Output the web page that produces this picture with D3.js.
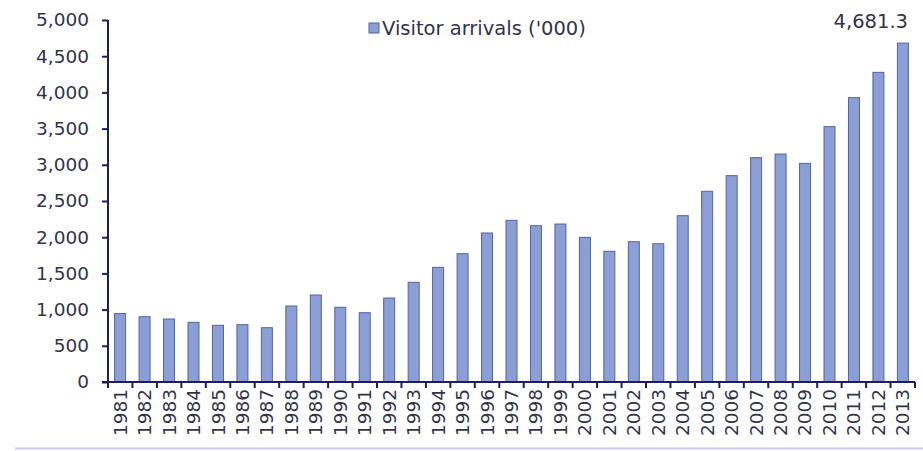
<!DOCTYPE html>
<html><head><meta charset="utf-8">
<script src="https://cdn.jsdelivr.net/npm/d3@7"></script>
<style>body{margin:0;background:#fff}svg{display:block}text{font-family:"DejaVu Sans",Verdana,sans-serif}</style>
</head><body><svg id="c" width="923" height="451"></svg>
<script>
const years = ["1981","1982","1983","1984","1985","1986","1987","1988","1989","1990","1991","1992","1993","1994","1995","1996","1997","1998","1999","2000","2001","2002","2003","2004","2005","2006","2007","2008","2009","2010","2011","2012","2013"];
const arrivals = [945,902,870,824,783,792,750,1050,1202,1032,957,1160,1377,1584,1772,2058,2233,2159,2182,1998,1805,1938,1910,2297,2634,2850,3098,3149,3020,3527,3927,4277,4681.3];
const yTicks = [0,500,1000,1500,2000,2500,3000,3500,4000,4500,5000];
const seriesName = "Visitor arrivals ('000)";
const lastLabel = "4,681.3";

const svg = d3.select("#c");
const m = {l:108, r:915, t:20, b:382};
const x = d3.scaleBand().domain(years).range([m.l, m.r]).paddingInner(0.55).paddingOuter(0.27);
const xb = d3.scaleBand().domain(years).range([m.l, m.r]);
const y = d3.scaleLinear().domain([0,5000]).range([m.b, m.t]);
const axisCol = "#1b1f5e", txtCol = "#33334a";

svg.append("line").attr("x1",15).attr("x2",923).attr("y1",448.5).attr("y2",448.5).attr("stroke","#c9cbf2").attr("stroke-width",2);

svg.selectAll("rect.bar").data(arrivals).join("rect").attr("class","bar")
  .attr("x",(d,i)=>x(years[i])).attr("width",x.bandwidth())
  .attr("y",d=>y(d)).attr("height",d=>y(0)-y(d))
  .attr("fill","#8b9ed5").attr("stroke","#54649a").attr("stroke-width",1);

// y axis
const ya = svg.append("g").attr("transform",`translate(${m.l},0)`)
  .call(d3.axisLeft(y).tickValues(yTicks).tickSize(6).tickPadding(13).tickFormat(d3.format(",")));
ya.select(".domain").attr("stroke",axisCol).attr("stroke-width",2).attr("d",`M0,${m.t}V${m.b}`);
ya.selectAll(".tick line").attr("stroke",axisCol).attr("stroke-width",2);
ya.selectAll("text").attr("fill",txtCol).style("font-size","18.5px").attr("font-family","DejaVu Sans");

// x axis
const xa = svg.append("g").attr("transform",`translate(0,${m.b})`);
xa.append("line").attr("x1",m.l-6).attr("x2",m.r).attr("stroke",axisCol).attr("stroke-width",2);
xa.selectAll("line.t").data(years.concat(["end"])).join("line").attr("class","t")
  .attr("x1",(d,i)=> i<years.length ? xb(d) : m.r).attr("x2",(d,i)=> i<years.length ? xb(d) : m.r)
  .attr("y1",0).attr("y2",6).attr("stroke",axisCol).attr("stroke-width",2);
xa.selectAll("text").data(years).join("text")
  .attr("transform",d=>`translate(${xb(d)+xb.bandwidth()/2+6.5},7) rotate(-90)`)
  .attr("text-anchor","end").attr("fill",txtCol).style("font-size","18.5px").text(d=>d);

// legend
svg.append("rect").attr("x",369).attr("y",23).attr("width",10).attr("height",10).attr("fill","#8b9ed5").attr("stroke","#54649a");
svg.append("text").attr("x",382).attr("y",35).attr("fill",txtCol).style("font-size","19.5px").text(seriesName);

// last label
svg.append("text").attr("x",908).attr("y",28).attr("text-anchor","end").attr("fill",txtCol).style("font-size","19.5px").text(lastLabel);
</script></body></html>
